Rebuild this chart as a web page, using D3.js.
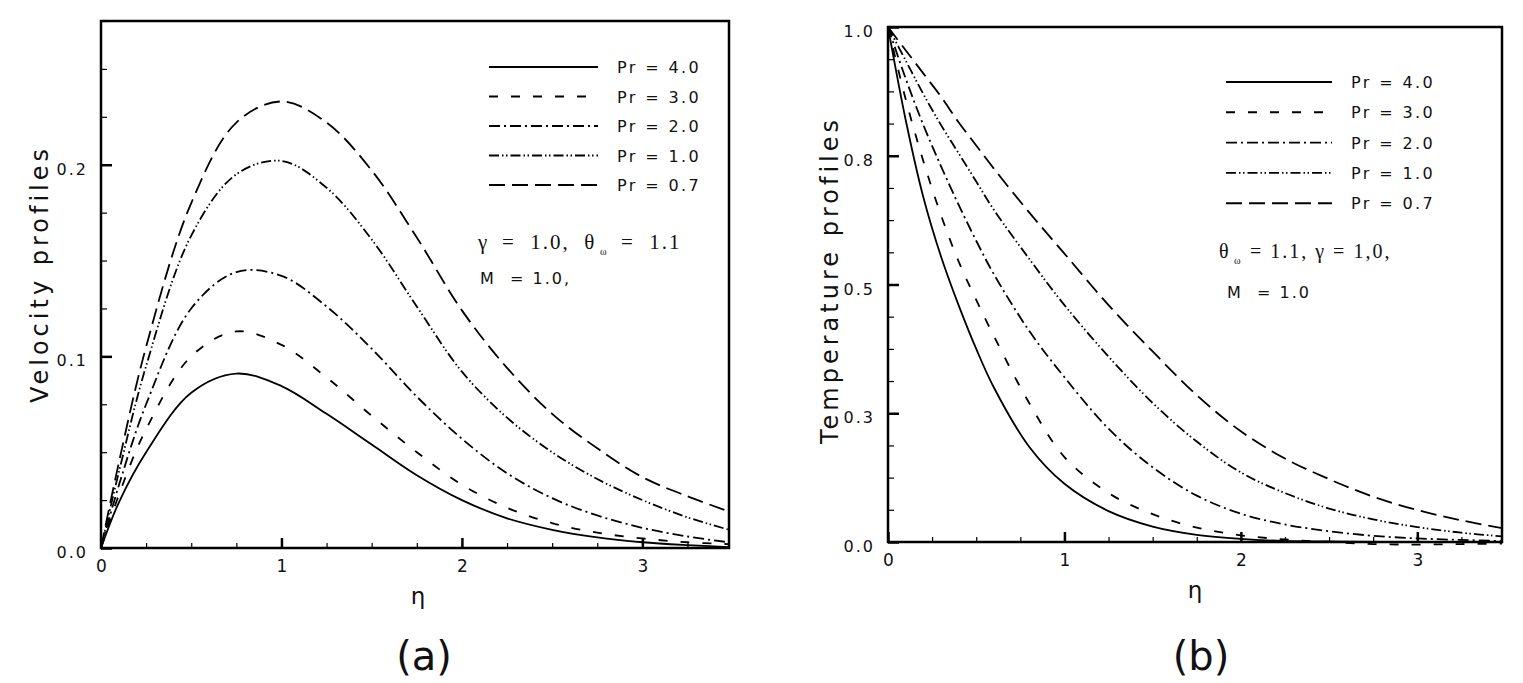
<!DOCTYPE html>
<html>
<head>
<meta charset="utf-8">
<script src="https://cdn.jsdelivr.net/npm/d3@7"></script>
<style>
  body { margin: 0; background: #fff; }
  text { font-family: "DejaVu Sans", sans-serif; fill: #111; }
  .serif { font-family: "Liberation Serif", "Times New Roman", serif; }
</style>
</head>
<body>
<script>
// series labels, same order in both panels
var prLabels = ["Pr = 4.0", "Pr = 3.0", "Pr = 2.0", "Pr = 1.0", "Pr = 0.7"];

// (a) velocity profiles
var etaVel = [0, 0.1, 0.25, 0.5, 0.75, 1, 1.25, 1.5, 1.75, 2, 2.25, 2.5, 2.75, 3, 3.25, 3.48];
var velPr40 = [0, 0.024, 0.05, 0.081, 0.091, 0.0845, 0.07, 0.054, 0.038, 0.025, 0.0155, 0.0095, 0.0055, 0.003, 0.0015, 0.0005];
var velPr30 = [0, 0.028, 0.062, 0.1, 0.113, 0.106, 0.089, 0.069, 0.05, 0.033, 0.021, 0.013, 0.008, 0.005, 0.003, 0.002];
var velPr20 = [0, 0.033, 0.075, 0.125, 0.144, 0.142, 0.126, 0.104, 0.079, 0.057, 0.039, 0.026, 0.017, 0.0105, 0.006, 0.003];
var velPr10 = [0, 0.04, 0.095, 0.163, 0.195, 0.202, 0.188, 0.161, 0.126, 0.092, 0.068, 0.05, 0.036, 0.025, 0.016, 0.0095];
var velPr07 = [0, 0.045, 0.105, 0.18, 0.222, 0.233, 0.222, 0.197, 0.162, 0.124, 0.094, 0.07, 0.052, 0.037, 0.027, 0.019];

// (b) temperature profiles
var etaTemp = [0, 0.1, 0.2, 0.3, 0.4, 0.5, 0.6, 0.8, 1, 1.25, 1.5, 1.75, 2, 2.25, 2.5, 2.75, 3, 3.25, 3.48];
var tempPr40 = [1, 0.82, 0.67, 0.555, 0.46, 0.375, 0.3, 0.185, 0.113, 0.06, 0.03, 0.014, 0.006, 0.002, 0.001, 0, 0, 0, 0];
var tempPr30 = [1, 0.86, 0.74, 0.635, 0.545, 0.47, 0.4, 0.27, 0.165, 0.095, 0.054, 0.028, 0.013, 0.005, 0, -0.004, -0.005, -0.004, -0.003];
var tempPr20 = [1, 0.9, 0.81, 0.73, 0.655, 0.585, 0.52, 0.41, 0.32, 0.22, 0.145, 0.09, 0.055, 0.034, 0.021, 0.012, 0.007, 0.004, 0.002];
var tempPr10 = [1, 0.935, 0.87, 0.81, 0.755, 0.7, 0.645, 0.55, 0.46, 0.36, 0.27, 0.195, 0.135, 0.095, 0.065, 0.044, 0.029, 0.018, 0.011];
var tempPr07 = [1, 0.955, 0.91, 0.865, 0.815, 0.77, 0.725, 0.64, 0.56, 0.46, 0.37, 0.285, 0.215, 0.162, 0.122, 0.088, 0.062, 0.042, 0.027];

// axes
var etaTicks = [0, 1, 2, 3];
var etaTickLabels = ["0", "1", "2", "3"];
var velTicks = [0, 0.1, 0.2];
var velTickLabels = ["0.0", "0.1", "0.2"];
var tempTicks = [0, 0.25, 0.5, 0.75, 1];
var tempTickLabels = ["0.0", "0.3", "0.5", "0.8", "1.0"];

var dashes = [null, "9,13", "11,4,2,4", "10,3,1.5,2.5,1.5,3", "16,7"];

var svg = d3.select("body").append("svg")
  .attr("width", 1523)
  .attr("height", 683);

svg.append("rect").attr("width", 1523).attr("height", 683).attr("fill", "#fff");

function profilePanel(cfg) {
  var x = d3.scaleLinear().domain([0, 3.48]).range([cfg.left, cfg.right]);
  var y = d3.scaleLinear().domain(cfg.yDomain).range([cfg.bottom, cfg.top]);
  var g = svg.append("g");

  g.append("clipPath").attr("id", cfg.id + "-clip")
    .append("rect")
    .attr("x", cfg.left).attr("y", cfg.top)
    .attr("width", cfg.right - cfg.left).attr("height", cfg.bottom - cfg.top + 5);

  var line = d3.line()
    .x(function(d) { return x(d[0]); })
    .y(function(d) { return y(d[1]); })
    .curve(d3.curveCatmullRom.alpha(0.5));

  var curves = g.append("g").attr("clip-path", "url(#" + cfg.id + "-clip)");
  cfg.series.forEach(function(vals, i) {
    curves.append("path")
      .datum(cfg.eta.map(function(e, j) { return [e, vals[j]]; }))
      .attr("d", line)
      .attr("fill", "none")
      .attr("stroke", "#000")
      .attr("stroke-width", 1.8)
      .attr("stroke-dasharray", dashes[i]);
  });

  // minor and major ticks, pointing into the plot
  var minorX = d3.range(0, 3.49, 0.25).filter(function(v) { return v % 1 !== 0; });
  g.append("g").attr("transform", "translate(0," + cfg.bottom + ")")
    .call(d3.axisBottom(x).tickValues(minorX).tickSize(-5).tickFormat(""))
    .call(function(a) { a.select(".domain").remove(); a.selectAll("line").attr("stroke-width", 1.2); });
  g.append("g").attr("transform", "translate(0," + cfg.bottom + ")")
    .call(d3.axisBottom(x).tickValues(etaTicks).tickSize(-10).tickPadding(12)
      .tickFormat(function(d, i) { return etaTickLabels[i]; }))
    .call(function(a) {
      a.select(".domain").remove();
      a.selectAll("line").attr("stroke-width", 2.5);
      a.selectAll("text").attr("font-size", 17).attr("font-family", "DejaVu Sans").attr("fill", "#111");
    });

  g.append("g").attr("transform", "translate(" + cfg.left + ",0)")
    .call(d3.axisLeft(y).tickValues(cfg.yMinor).tickSize(-6).tickFormat(""))
    .call(function(a) { a.select(".domain").remove(); a.selectAll("line").attr("stroke-width", 1.2); });
  g.append("g").attr("transform", "translate(" + cfg.left + ",0)")
    .call(d3.axisLeft(y).tickValues(cfg.yTicks).tickSize(-11).tickPadding(13)
      .tickFormat(function(d, i) { return cfg.yTickLabels[i]; }))
    .call(function(a) {
      a.select(".domain").remove();
      a.selectAll("line").attr("stroke-width", 2.5);
      a.selectAll("text").attr("font-size", 16).attr("font-family", "DejaVu Sans")
        .attr("letter-spacing", 2).attr("fill", "#111").attr("dy", "0.6em");
    });

  g.append("rect")
    .attr("x", cfg.left).attr("y", cfg.top)
    .attr("width", cfg.right - cfg.left).attr("height", cfg.bottom - cfg.top)
    .attr("fill", "none").attr("stroke", "#000").attr("stroke-width", 2.5);

  g.append("text")
    .attr("transform", "translate(" + cfg.yLabelX + "," + cfg.yLabelY + ") rotate(-90)")
    .attr("text-anchor", "middle")
    .attr("font-size", 24)
    .attr("letter-spacing", 4)
    .text(cfg.yLabel);

  g.append("text")
    .attr("x", cfg.etaX).attr("y", cfg.bottom + 56)
    .attr("text-anchor", "middle")
    .attr("font-size", 23)
    .text("η");

  g.append("text")
    .attr("x", cfg.etaX + 6).attr("y", 670)
    .attr("text-anchor", "middle")
    .attr("font-size", 40)
    .text(cfg.caption);

  // legend
  var leg = g.append("g");
  prLabels.forEach(function(lab, i) {
    var yy = cfg.legTop + i * cfg.legStep;
    leg.append("line")
      .attr("x1", cfg.legX).attr("x2", cfg.legX + cfg.legLen)
      .attr("y1", yy).attr("y2", yy)
      .attr("stroke", "#000").attr("stroke-width", 1.9)
      .attr("stroke-dasharray", dashes[i]);
    leg.append("text")
      .attr("x", cfg.legX + cfg.legLen + 19).attr("y", yy + 6)
      .attr("font-size", 16)
      .attr("letter-spacing", 2.4)
      .text(lab);
  });

  return g;
}

var velPanel = profilePanel({
  id: "vel",
  left: 101, right: 729, top: 21, bottom: 548,
  yDomain: [0, 0.275],
  yTicks: velTicks, yTickLabels: velTickLabels,
  yMinor: d3.range(0.025, 0.276, 0.025).filter(function(v) { return Math.abs(v * 10 - Math.round(v * 10)) > 1e-6; }),
  eta: etaVel,
  series: [velPr40, velPr30, velPr20, velPr10, velPr07],
  yLabel: "Velocity profiles", yLabelX: 48, yLabelY: 274,
  etaX: 418, caption: "(a)",
  legX: 489, legLen: 109, legTop: 67, legStep: 29.5
});

var tempPanel = profilePanel({
  id: "temp",
  left: 888, right: 1502, top: 27, bottom: 542,
  yDomain: [0, 1],
  yTicks: tempTicks, yTickLabels: tempTickLabels,
  yMinor: d3.range(0.0625, 1, 0.0625).filter(function(v) { return Math.abs(v * 4 - Math.round(v * 4)) > 1e-6; }),
  eta: etaTemp,
  series: [tempPr40, tempPr30, tempPr20, tempPr10, tempPr07],
  yLabel: "Temperature profiles", yLabelX: 838, yLabelY: 280,
  etaX: 1195, caption: "(b)",
  legX: 1226, legLen: 106, legTop: 82, legStep: 30.3
});

// parameter notes
var noteA = velPanel.append("g");
noteA.append("text").attr("class", "serif").attr("x", 478).attr("y", 249).attr("font-size", 21).text("γ");
noteA.append("text").attr("class", "serif").attr("x", 502).attr("y", 249).attr("font-size", 21)
  .attr("letter-spacing", 2).attr("xml:space", "preserve").text("=  1.0,  θ");
noteA.append("text").attr("class", "serif").attr("x", 600).attr("y", 255).attr("font-size", 10).text("ω");
noteA.append("text").attr("class", "serif").attr("x", 621).attr("y", 249).attr("font-size", 21)
  .attr("letter-spacing", 2).attr("xml:space", "preserve").text("=  1.1");
noteA.append("text").attr("x", 480).attr("y", 284).attr("font-size", 16)
  .attr("letter-spacing", 2).attr("xml:space", "preserve").text("M  = 1.0,");

var noteB = tempPanel.append("g");
noteB.append("text").attr("class", "serif").attr("x", 1219).attr("y", 258).attr("font-size", 20).text("θ");
noteB.append("text").attr("class", "serif").attr("x", 1234).attr("y", 264).attr("font-size", 10).text("ω");
noteB.append("text").attr("class", "serif").attr("x", 1250).attr("y", 258).attr("font-size", 20)
  .attr("letter-spacing", 2).attr("xml:space", "preserve").text("= 1.1, γ = 1,0,");
noteB.append("text").attr("x", 1227).attr("y", 298).attr("font-size", 16)
  .attr("letter-spacing", 2).attr("xml:space", "preserve").text("M  = 1.0");
</script>
</body>
</html>
